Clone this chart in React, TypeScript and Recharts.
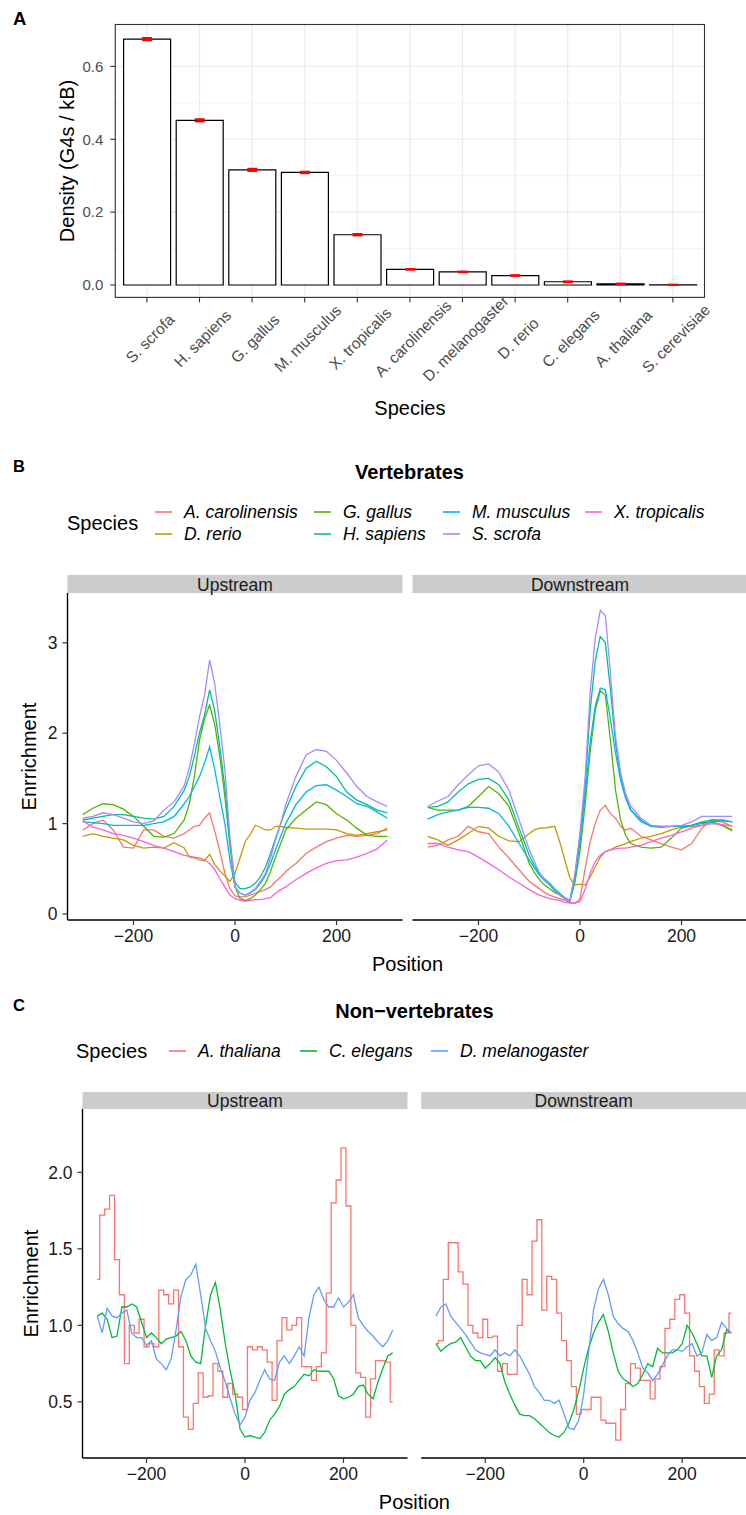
import React from 'react';
import { BarChart, Bar, ErrorBar, LineChart, Line, XAxis, YAxis, CartesianGrid } from 'recharts';

const FONT = "'Liberation Sans', Arial, Helvetica, sans-serif";

// ---------- Panel A: G4 density per species ----------
const speciesA = ['S. scrofa', 'H. sapiens', 'G. gallus', 'M. musculus', 'X. tropicalis', 'A. carolinensis', 'D. melanogaster', 'D. rerio', 'C. elegans', 'A. thaliana', 'S. cerevisiae'];
const densityA = [0.675, 0.452, 0.316, 0.309, 0.138, 0.043, 0.036, 0.026, 0.009, 0.003, 0.0005];
const densityErrA = [0.003, 0.003, 0.003, 0.002, 0.002, 0.001, 0.001, 0.001, 0.001, 0.001, 0.0005];
const majorTicksA = [0, 0.2, 0.4, 0.6];
const minorTicksA = [0.1, 0.3, 0.5, 0.7];
const domainA: [number, number] = [-0.034, 0.715];

// ---------- Panel B: vertebrates ----------
const posB = [-300, -280, -260, -240, -220, -200, -180, -160, -140, -120, -100, -90, -80, -70, -60, -50, -40, -30, -20, -10, 0, 10, 20, 30, 40, 50, 60, 70, 80, 90, 100, 120, 140, 160, 180, 200, 220, 240, 260, 280, 300];
const vertKeys = ['acar', 'drer', 'ggal', 'hsap', 'mmus', 'sscr', 'xtro'];
const vertNames = ['A. carolinensis', 'D. rerio', 'G. gallus', 'H. sapiens', 'M. musculus', 'S. scrofa', 'X. tropicalis'];
const vertColors = ['#F8766D', '#C49A00', '#53B400', '#00C094', '#00B6EB', '#A58AFF', '#FB61D7'];

const upAcar = [0.93, 1.00, 1.04, 0.93, 0.74, 0.73, 0.93, 0.93, 0.86, 0.84, 0.89, 0.93, 0.97, 0.98, 1.06, 1.12, 0.92, 0.70, 0.45, 0.28, 0.20, 0.19, 0.19, 0.21, 0.23, 0.25, 0.27, 0.30, 0.36, 0.41, 0.47, 0.56, 0.67, 0.74, 0.80, 0.84, 0.87, 0.86, 0.87, 0.89, 0.95];
const upDrer = [0.86, 0.89, 0.86, 0.84, 0.82, 0.76, 0.73, 0.74, 0.73, 0.79, 0.73, 0.63, 0.62, 0.60, 0.59, 0.66, 0.55, 0.48, 0.42, 0.36, 0.45, 0.62, 0.80, 0.88, 0.98, 0.96, 0.93, 0.93, 0.97, 0.97, 0.96, 0.95, 0.94, 0.94, 0.94, 0.93, 0.89, 0.87, 0.89, 0.91, 0.93];
const upGgal = [1.10, 1.17, 1.22, 1.21, 1.16, 1.08, 0.97, 0.86, 0.85, 0.89, 1.04, 1.22, 1.52, 1.92, 2.16, 2.31, 2.10, 1.75, 1.30, 0.75, 0.30, 0.17, 0.15, 0.17, 0.21, 0.27, 0.34, 0.47, 0.63, 0.78, 0.93, 1.06, 1.15, 1.24, 1.21, 1.11, 1.04, 0.95, 0.87, 0.86, 0.86];
const upHsap = [1.04, 1.06, 1.08, 1.10, 1.10, 1.08, 1.06, 1.05, 1.08, 1.19, 1.37, 1.52, 1.75, 2.00, 2.20, 2.48, 2.25, 1.85, 1.40, 0.80, 0.35, 0.28, 0.28, 0.30, 0.34, 0.41, 0.52, 0.67, 0.84, 1.00, 1.15, 1.41, 1.61, 1.69, 1.63, 1.52, 1.35, 1.26, 1.21, 1.15, 1.12];
const upMmus = [1.02, 1.01, 1.00, 0.98, 0.98, 0.98, 0.98, 1.00, 1.02, 1.08, 1.22, 1.30, 1.41, 1.52, 1.67, 1.85, 1.60, 1.30, 1.00, 0.60, 0.30, 0.23, 0.21, 0.23, 0.27, 0.34, 0.43, 0.56, 0.71, 0.86, 1.00, 1.21, 1.35, 1.42, 1.43, 1.37, 1.30, 1.22, 1.19, 1.13, 1.06];
const upSscr = [1.06, 1.08, 1.12, 1.10, 1.06, 1.02, 1.00, 1.03, 1.15, 1.24, 1.42, 1.62, 1.88, 2.18, 2.42, 2.81, 2.55, 2.10, 1.60, 0.85, 0.30, 0.23, 0.21, 0.24, 0.28, 0.36, 0.45, 0.62, 0.82, 1.00, 1.21, 1.52, 1.76, 1.82, 1.80, 1.70, 1.56, 1.41, 1.30, 1.24, 1.19];
const upXtro = [1.03, 0.96, 0.93, 0.89, 0.87, 0.84, 0.80, 0.76, 0.73, 0.69, 0.65, 0.64, 0.63, 0.62, 0.60, 0.56, 0.49, 0.39, 0.30, 0.21, 0.17, 0.15, 0.14, 0.15, 0.16, 0.16, 0.17, 0.18, 0.23, 0.27, 0.30, 0.38, 0.45, 0.51, 0.56, 0.59, 0.60, 0.63, 0.67, 0.72, 0.82];

const downAcar = [0.74, 0.76, 0.82, 0.86, 0.97, 0.91, 0.89, 0.74, 0.62, 0.49, 0.36, 0.32, 0.28, 0.24, 0.21, 0.19, 0.17, 0.15, 0.13, 0.12, 0.17, 0.50, 0.80, 1.00, 1.15, 1.20, 1.11, 1.06, 0.97, 0.93, 0.95, 0.86, 0.82, 0.78, 0.74, 0.71, 0.78, 0.95, 1.04, 1.02, 0.97];
const downDrer = [0.86, 0.82, 0.76, 0.82, 0.89, 0.97, 0.95, 0.86, 0.81, 0.80, 0.89, 0.93, 0.95, 0.95, 0.96, 0.97, 0.80, 0.60, 0.40, 0.32, 0.33, 0.32, 0.41, 0.52, 0.63, 0.69, 0.71, 0.74, 0.76, 0.78, 0.80, 0.84, 0.86, 0.89, 0.93, 0.96, 0.97, 0.98, 1.02, 0.98, 0.92];
const downGgal = [1.18, 1.15, 1.15, 1.15, 1.19, 1.30, 1.41, 1.33, 1.19, 0.89, 0.56, 0.46, 0.38, 0.32, 0.28, 0.24, 0.21, 0.17, 0.14, 0.35, 0.70, 1.20, 1.80, 2.25, 2.47, 2.42, 1.92, 1.37, 1.04, 0.87, 0.78, 0.74, 0.73, 0.74, 0.84, 0.95, 0.98, 1.01, 1.02, 0.98, 0.93];
const downHsap = [1.18, 1.19, 1.24, 1.35, 1.44, 1.49, 1.50, 1.43, 1.26, 0.95, 0.65, 0.54, 0.45, 0.39, 0.34, 0.28, 0.23, 0.18, 0.15, 0.42, 0.85, 1.40, 2.25, 2.80, 3.07, 3.00, 2.48, 1.89, 1.52, 1.30, 1.15, 1.04, 0.97, 0.97, 0.97, 0.97, 0.98, 1.02, 1.04, 1.04, 1.02];
const downMmus = [1.05, 1.10, 1.13, 1.15, 1.18, 1.18, 1.17, 1.11, 0.97, 0.78, 0.60, 0.51, 0.43, 0.37, 0.32, 0.26, 0.21, 0.18, 0.15, 0.40, 0.80, 1.30, 1.90, 2.30, 2.50, 2.48, 2.15, 1.78, 1.48, 1.28, 1.15, 1.02, 0.97, 0.96, 0.97, 0.97, 0.98, 1.00, 1.02, 1.03, 1.02];
const downSscr = [1.19, 1.25, 1.30, 1.43, 1.54, 1.64, 1.66, 1.57, 1.37, 1.04, 0.71, 0.58, 0.46, 0.38, 0.32, 0.27, 0.21, 0.17, 0.14, 0.45, 0.90, 1.50, 2.45, 3.05, 3.36, 3.30, 2.66, 1.96, 1.56, 1.33, 1.19, 1.06, 0.98, 0.97, 0.97, 0.98, 1.02, 1.08, 1.08, 1.08, 1.08];
const downXtro = [0.78, 0.78, 0.74, 0.71, 0.69, 0.63, 0.56, 0.49, 0.41, 0.34, 0.27, 0.24, 0.21, 0.19, 0.17, 0.16, 0.15, 0.13, 0.12, 0.12, 0.14, 0.27, 0.45, 0.58, 0.65, 0.69, 0.71, 0.72, 0.73, 0.73, 0.74, 0.76, 0.80, 0.84, 0.87, 0.91, 0.95, 0.98, 1.00, 0.99, 0.97];

const domainB: [number, number] = [-0.066, 3.551];
const ticksB = [0, 1, 2, 3];

// ---------- Panel C: non-vertebrates ----------
const posC = [-300, -290, -280, -270, -260, -250, -240, -230, -220, -210, -200, -190, -180, -170, -160, -150, -140, -130, -120, -110, -100, -90, -80, -70, -60, -50, -40, -30, -20, -10, 0, 10, 20, 30, 40, 50, 60, 70, 80, 90, 100, 110, 120, 130, 140, 150, 160, 170, 180, 190, 200, 210, 220, 230, 240, 250, 260, 270, 280, 290, 300];
const nonVertKeys = ['atha', 'cele', 'dmel'];
const nonVertNames = ['A. thaliana', 'C. elegans', 'D. melanogaster'];
const nonVertColors = ['#F8766D', '#00BA38', '#619CFF'];
const nonVertCurves = ['step', 'linear', 'linear'];

const upAtha = [1.30, 1.72, 1.76, 1.85, 1.43, 1.20, 0.75, 1.00, 0.95, 1.04, 0.86, 0.88, 0.86, 1.23, 1.20, 1.14, 1.23, 0.86, 0.40, 0.32, 0.49, 0.69, 0.53, 0.54, 0.75, 0.70, 0.53, 0.62, 0.55, 0.53, 0.45, 0.86, 0.84, 0.86, 0.84, 0.76, 0.51, 0.90, 1.05, 0.97, 1.00, 1.05, 0.73, 0.73, 0.64, 0.73, 0.82, 1.21, 1.80, 1.95, 2.16, 1.78, 1.00, 0.69, 0.66, 0.40, 0.65, 0.77, 0.77, 0.76, 0.50];
const upCele = [1.06, 1.08, 1.04, 0.92, 0.93, 1.12, 1.12, 1.14, 1.12, 1.02, 0.92, 0.95, 0.92, 0.88, 0.91, 0.92, 0.93, 0.96, 0.90, 0.80, 0.76, 0.75, 1.00, 1.20, 1.28, 1.10, 0.88, 0.70, 0.55, 0.32, 0.27, 0.28, 0.27, 0.26, 0.30, 0.38, 0.42, 0.47, 0.55, 0.58, 0.60, 0.64, 0.68, 0.67, 0.71, 0.70, 0.70, 0.70, 0.65, 0.54, 0.52, 0.53, 0.55, 0.60, 0.61, 0.55, 0.52, 0.63, 0.72, 0.80, 0.82];
const upDmel = [1.06, 0.95, 1.11, 1.06, 1.05, 1.08, 1.10, 0.95, 0.92, 0.92, 0.87, 0.90, 0.78, 0.75, 0.71, 0.78, 0.97, 1.19, 1.30, 1.33, 1.40, 1.20, 0.98, 0.90, 0.83, 0.72, 0.63, 0.52, 0.42, 0.35, 0.40, 0.51, 0.56, 0.64, 0.71, 0.65, 0.64, 0.76, 0.80, 0.75, 0.80, 0.86, 0.80, 1.05, 1.20, 1.25, 1.17, 1.12, 1.12, 1.18, 1.12, 1.15, 1.20, 1.05, 1.00, 0.96, 0.93, 0.89, 0.86, 0.90, 0.97];

const downAtha = [0.88, 0.90, 1.30, 1.54, 1.54, 1.35, 1.27, 1.00, 0.95, 0.92, 1.04, 0.92, 0.93, 0.70, 0.75, 0.68, 0.68, 1.00, 1.30, 1.20, 1.55, 1.69, 1.10, 1.32, 1.30, 1.08, 0.90, 0.77, 0.60, 0.42, 0.45, 0.45, 0.53, 0.53, 0.38, 0.36, 0.36, 0.25, 0.45, 0.62, 0.75, 0.72, 0.64, 0.64, 0.52, 0.65, 0.73, 0.98, 1.04, 1.17, 1.20, 1.08, 0.80, 0.70, 0.60, 0.49, 0.55, 0.84, 0.80, 0.95, 1.08];
const downCele = [0.88, 0.83, 0.86, 0.88, 0.89, 0.92, 0.86, 0.80, 0.77, 0.77, 0.72, 0.75, 0.79, 0.75, 0.63, 0.55, 0.48, 0.42, 0.41, 0.41, 0.39, 0.36, 0.33, 0.30, 0.28, 0.27, 0.30, 0.36, 0.45, 0.57, 0.72, 0.85, 0.95, 1.02, 1.07, 0.96, 0.82, 0.70, 0.65, 0.63, 0.60, 0.62, 0.68, 0.75, 0.73, 0.85, 0.82, 0.82, 0.82, 0.84, 0.88, 1.00, 0.95, 0.88, 0.80, 0.80, 0.66, 0.80, 0.84, 0.97, 0.95];
const downDmel = [1.06, 1.12, 1.14, 1.06, 1.02, 0.98, 0.94, 0.89, 0.84, 0.82, 0.81, 0.80, 0.84, 0.80, 0.82, 0.80, 0.84, 0.80, 0.74, 0.68, 0.60, 0.56, 0.51, 0.51, 0.49, 0.51, 0.42, 0.33, 0.32, 0.38, 0.55, 0.82, 1.10, 1.24, 1.30, 1.20, 1.06, 1.01, 0.98, 0.96, 0.90, 0.82, 0.72, 0.69, 0.64, 0.68, 0.74, 0.80, 0.84, 0.84, 0.83, 0.86, 0.88, 0.80, 0.82, 0.94, 0.90, 0.92, 1.02, 0.98, 0.95];

const domainC: [number, number] = [0.133, 2.414];
const ticksC = [0.5, 1.0, 1.5, 2.0];

const facetTicksX = [-200, 0, 200];
const facetDomainX: [number, number] = [-330, 330];

// ---------- helpers ----------
function buildRows(pos: number[], keys: string[], cols: number[][]) {
  return pos.map((p, i) => {
    const row: Record<string, number> = { pos: p };
    keys.forEach((k, j) => {
      row[k] = cols[j][i];
    });
    return row;
  });
}

const barRows = speciesA.map((s, i) => ({ species: s, density: densityA[i], err: densityErrA[i] }));
const vertUpRows = buildRows(posB, vertKeys, [upAcar, upDrer, upGgal, upHsap, upMmus, upSscr, upXtro]);
const vertDownRows = buildRows(posB, vertKeys, [downAcar, downDrer, downGgal, downHsap, downMmus, downSscr, downXtro]);
const nonVertUpRows = buildRows(posC, nonVertKeys, [upAtha, upCele, upDmel]);
const nonVertDownRows = buildRows(posC, nonVertKeys, [downAtha, downCele, downDmel]);

const withMinus = (v: number) => String(v).replace('-', '\u2212');

// plot rectangle of panel A
const A_PLOT = { left: 115.3, right: 704.5, top: 24.5, bottom: 297.4 };
const A_W = 746;
const A_H = 390;

function SpeciesTick(props: any) {
  const { x, y, payload } = props;
  const cx = x + 3;
  const cy = y + 36;
  return (
    <text
      x={cx}
      y={cy}
      textAnchor="middle"
      dominantBaseline="central"
      transform={`rotate(-45 ${cx} ${cy})`}
      fill="#4D4D4D"
      fontSize={15.5}
      fontFamily={FONT}
    >
      {payload.value}
    </text>
  );
}

function minorGridA(p: any) {
  const s = p?.yAxis?.scale;
  if (typeof s === 'function') return minorTicksA.map((v) => s(v));
  const off = p?.offset;
  if (!off) return [];
  return minorTicksA.map((v) => off.top + ((domainA[1] - v) / (domainA[1] - domainA[0])) * off.height);
}

function DensityBars() {
  return (
    <div style={{ position: 'absolute', left: 0, top: 0, width: A_W, height: A_H, zIndex: 1 }}>
      <BarChart
        width={A_W}
        height={A_H}
        data={barRows}
        margin={{ top: A_PLOT.top, right: A_W - A_PLOT.right, left: 0, bottom: 0 }}
        barSize={47}
      >
        <CartesianGrid vertical={false} stroke="#EBEBEB" strokeWidth={0.6} horizontalCoordinatesGenerator={minorGridA} />
        <CartesianGrid stroke="#EBEBEB" strokeWidth={1.2} />
        <XAxis
          dataKey="species"
          type="category"
          interval={0}
          padding={{ left: 5.3, right: 5.3 }}
          height={A_H - A_PLOT.bottom}
          axisLine={false}
          tickSize={5}
          tickMargin={0}
          tickLine={{ stroke: '#333333', strokeWidth: 1.1 }}
          tick={<SpeciesTick />}
        />
        <YAxis
          type="number"
          domain={domainA}
          allowDataOverflow
          ticks={majorTicksA}
          tickFormatter={(v: number) => v.toFixed(1)}
          width={A_PLOT.left}
          axisLine={false}
          tickSize={5}
          tickMargin={7}
          tickLine={{ stroke: '#333333', strokeWidth: 1.1 }}
          tick={{ fill: '#4D4D4D', fontSize: 15, fontFamily: FONT }}
        />
        <Bar dataKey="density" fill="#FFFFFF" stroke="#000000" strokeWidth={1.2} isAnimationActive={false}>
          <ErrorBar dataKey="err" width={5} stroke="#FF0000" strokeWidth={2} direction="y" />
        </Bar>
      </BarChart>
    </div>
  );
}

type FacetProps = {
  rows: Record<string, number>[];
  keys: string[];
  colors: string[];
  curves?: string[];
  left: number;
  top: number;
  width: number;
  height: number;
  ml: number;
  mr: number;
  yWidth: number;
  showY: boolean;
  yDomain: [number, number];
  yTicks: number[];
  yFmt: (v: number) => string;
};

function Facet(p: FacetProps) {
  return (
    <div style={{ position: 'absolute', left: p.left, top: p.top, width: p.width, height: p.height, zIndex: 1 }}>
      <LineChart width={p.width} height={p.height} data={p.rows} margin={{ top: 10, right: p.mr, left: p.ml, bottom: 0 }}>
        <XAxis
          type="number"
          dataKey="pos"
          domain={facetDomainX}
          allowDataOverflow
          ticks={facetTicksX}
          interval={0}
          tickFormatter={withMinus}
          height={35}
          tickSize={5}
          tickMargin={5}
          axisLine={{ stroke: '#000000', strokeWidth: 1.4 }}
          tickLine={{ stroke: '#333333', strokeWidth: 1.2 }}
          tick={{ fill: '#1A1A1A', fontSize: 17.5, fontFamily: FONT }}
        />
        {p.showY ? (
          <YAxis
            type="number"
            domain={p.yDomain}
            allowDataOverflow
            ticks={p.yTicks}
            interval={0}
            tickFormatter={p.yFmt}
            width={p.yWidth}
            tickSize={5}
            tickMargin={5}
            axisLine={{ stroke: '#000000', strokeWidth: 1.4 }}
            tickLine={{ stroke: '#333333', strokeWidth: 1.2 }}
            tick={{ fill: '#1A1A1A', fontSize: 17.5, fontFamily: FONT }}
          />
        ) : (
          <YAxis type="number" hide domain={p.yDomain} allowDataOverflow />
        )}
        {p.keys.map((k, i) => (
          <Line
            key={k}
            type={(p.curves ? p.curves[i] : 'linear') as any}
            dataKey={k}
            stroke={p.colors[i]}
            strokeWidth={1.3}
            dot={false}
            activeDot={false}
            isAnimationActive={false}
          />
        ))}
      </LineChart>
    </div>
  );
}

type LegendItem = { label: string; color: string; x: number; y: number };

const vertLegendCols = [155, 314, 443, 585];
const vertLegendRows = [512, 534];
// ggplot fills the legend column by column: 2 rows
const vertLegend: LegendItem[] = vertNames.map((n, i) => ({
  label: n,
  color: vertColors[i],
  x: vertLegendCols[Math.floor(i / 2)],
  y: vertLegendRows[i % 2],
}));
const nonVertLegendCols = [169, 300, 431];
const nonVertLegend: LegendItem[] = nonVertNames.map((n, i) => ({
  label: n,
  color: nonVertColors[i],
  x: nonVertLegendCols[i],
  y: 1051,
}));

function Legend({ items }: { items: LegendItem[] }) {
  return (
    <g>
      {items.map((it) => (
        <g key={it.label}>
          <line x1={it.x} x2={it.x + 17} y1={it.y} y2={it.y} stroke={it.color} strokeWidth={1.6} />
          <text x={it.x + 29} y={it.y} dominantBaseline="central" fontSize={17.5} fontStyle="italic" fill="#000">
            {it.label}
          </text>
        </g>
      ))}
    </g>
  );
}

function Strip({ x, y, w, h, label }: { x: number; y: number; w: number; h: number; label: string }) {
  return (
    <g>
      <rect x={x} y={y} width={w} height={h} fill="#CCCCCC" />
      <text x={x + w / 2} y={y + h / 2 + 0.5} textAnchor="middle" dominantBaseline="central" fontSize={17.5} fill="#1A1A1A">
        {label}
      </text>
    </g>
  );
}

function Annotations() {
  return (
    <svg
      width={746}
      height={1515}
      style={{ position: 'absolute', left: 0, top: 0, zIndex: 2, pointerEvents: 'none' }}
      fontFamily={FONT}
    >
      {/* panel A */}
      <rect
        x={A_PLOT.left}
        y={A_PLOT.top}
        width={A_PLOT.right - A_PLOT.left}
        height={A_PLOT.bottom - A_PLOT.top}
        fill="none"
        stroke="#333333"
        strokeWidth={1.1}
      />
      <text x={13} y={25} fontSize={18.5} fontWeight="bold">A</text>
      <text transform="translate(67,161) rotate(-90)" textAnchor="middle" dominantBaseline="central" fontSize={20}>
        Density (G4s / kB)
      </text>
      <text x={409.9} y={415} textAnchor="middle" fontSize={20}>Species</text>

      {/* panel B */}
      <text x={13} y={472} fontSize={16.5} fontWeight="bold">B</text>
      <text x={409.5} y={479} textAnchor="middle" fontSize={20} fontWeight="bold">Vertebrates</text>
      <text x={67} y={523} dominantBaseline="central" fontSize={20}>Species</text>
      <Legend items={vertLegend} />
      <Strip x={67.5} y={575} w={335} h={18} label="Upstream" />
      <Strip x={412.5} y={575} w={335} h={18} label="Downstream" />
      <text transform="translate(29,756.5) rotate(-90)" textAnchor="middle" dominantBaseline="central" fontSize={20}>
        Enrrichment
      </text>
      <text x={407.5} y={971} textAnchor="middle" fontSize={20}>Position</text>

      {/* panel C */}
      <text x={13} y={1011} fontSize={16.5} fontWeight="bold">C</text>
      <text x={414.4} y={1017.5} textAnchor="middle" fontSize={20} fontWeight="bold">Non−vertebrates</text>
      <text x={76} y={1051} dominantBaseline="central" fontSize={20}>Species</text>
      <Legend items={nonVertLegend} />
      <Strip x={82.5} y={1092} w={325} h={17} label="Upstream" />
      <Strip x={421.2} y={1092} w={325} h={17} label="Downstream" />
      <text transform="translate(30.5,1283.5) rotate(-90)" textAnchor="middle" dominantBaseline="central" fontSize={20}>
        Enrrichment
      </text>
      <text x={414.4} y={1509} textAnchor="middle" fontSize={20}>Position</text>
    </svg>
  );
}

export default function App() {
  return (
    <div
      style={{
        position: 'absolute',
        left: 0,
        top: 0,
        width: 746,
        height: 1515,
        overflow: 'hidden',
        background: '#FFFFFF',
        fontFamily: FONT,
      }}
    >
      <DensityBars />

      <Facet
        rows={vertUpRows}
        keys={vertKeys}
        colors={vertColors}
        left={0}
        top={583}
        width={410}
        height={372}
        ml={0}
        mr={7.5}
        yWidth={67.5}
        showY
        yDomain={domainB}
        yTicks={ticksB}
        yFmt={(v) => String(v)}
      />
      <Facet
        rows={vertDownRows}
        keys={vertKeys}
        colors={vertColors}
        left={405}
        top={583}
        width={343}
        height={372}
        ml={7.5}
        mr={0.5}
        yWidth={0}
        showY={false}
        yDomain={domainB}
        yTicks={ticksB}
        yFmt={(v) => String(v)}
      />

      <Facet
        rows={nonVertUpRows}
        keys={nonVertKeys}
        colors={nonVertColors}
        curves={nonVertCurves}
        left={0}
        top={1099}
        width={415}
        height={394}
        ml={0}
        mr={7.5}
        yWidth={82.5}
        showY
        yDomain={domainC}
        yTicks={ticksC}
        yFmt={(v) => v.toFixed(1)}
      />
      <Facet
        rows={nonVertDownRows}
        keys={nonVertKeys}
        colors={nonVertColors}
        curves={nonVertCurves}
        left={414}
        top={1099}
        width={333}
        height={394}
        ml={7.2}
        mr={0.8}
        yWidth={0}
        showY={false}
        yDomain={domainC}
        yTicks={ticksC}
        yFmt={(v) => v.toFixed(1)}
      />

      <Annotations />
    </div>
  );
}
